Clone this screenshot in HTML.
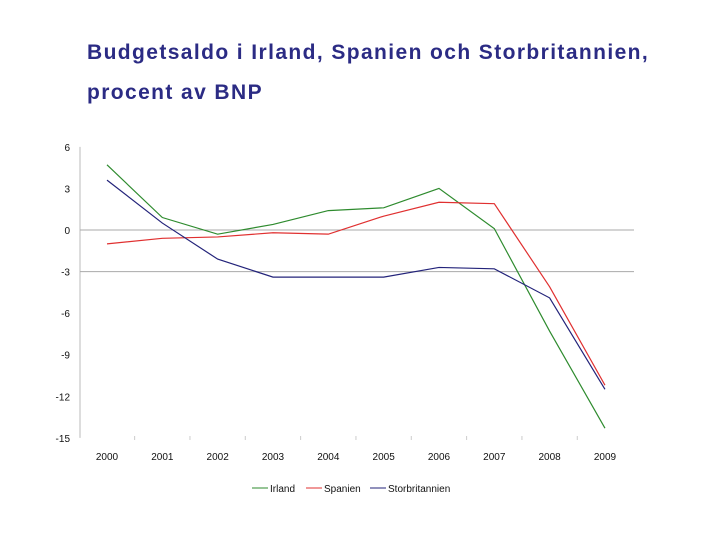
<!DOCTYPE html>
<html><head><meta charset="utf-8"><style>
body{margin:0;background:#fff;width:720px;height:540px;overflow:hidden;font-family:"Liberation Sans",sans-serif}
.t{position:absolute;left:87px;color:#2b2b84;font-size:21px;font-weight:bold;letter-spacing:1.4px;white-space:nowrap}
</style></head><body>
<div class="t" style="top:41px">Budgetsaldo i Irland, Spanien och Storbritannien,</div>
<div class="t" style="top:81px">procent av BNP</div>
<svg id="c" width="720" height="540" style="position:absolute;left:0;top:0"></svg>
<script>
const years=["2000","2001","2002","2003","2004","2005","2006","2007","2008","2009"];
const irland=[4.7,0.9,-0.3,0.4,1.4,1.6,3.0,0.1,-7.3,-14.3];
const spanien=[-1.0,-0.6,-0.5,-0.2,-0.3,1.0,2.0,1.9,-4.1,-11.2];
const storbritannien=[3.6,0.5,-2.1,-3.4,-3.4,-3.4,-2.7,-2.8,-4.9,-11.5];
const yTicks=[6,3,0,-3,-6,-9,-12,-15];
const svg=document.getElementById('c');const NS='http://www.w3.org/2000/svg';
const X=i=>107+i*55.33, Y=v=>230-v*(291/21);
function mk(t,a){const e=document.createElementNS(NS,t);for(const k in a)e.setAttribute(k,a[k]);svg.appendChild(e);return e;}
let ax=mk('line',{x1:80,y1:Y(6),x2:80,y2:Y(-15),stroke:'#bbb'});


[0,-3].forEach(v=>{const g=mk('line',{x1:80,x2:634,y1:Y(v),y2:Y(v),stroke:'#aaa'});

});
yTicks.forEach(v=>{const t=mk('text',{x:70,y:Y(v)+4,'text-anchor':'end','font-size':10,fill:'#111'});t.textContent=v;

});
years.forEach((y,i)=>{const t=mk('text',{x:X(i),y:460,'text-anchor':'middle','font-size':10,fill:'#111'});t.textContent=y;


if(i>0){const k=mk('line',{x1:X(i)-27.7,x2:X(i)-27.7,y1:436,y2:440,stroke:'#ccc'});

}});
const series=[[irland,'#2e8b2e','Irland'],[spanien,'#e03030','Spanien'],[storbritannien,'#23237a','Storbritannien']];
series.forEach(([d,c,n])=>{const p=mk('polyline',{points:d.map((v,i)=>X(i)+','+Y(v)).join(' '),fill:'none',stroke:c,'stroke-width':1.2});

});
const lx=[252,306,370];
series.forEach(([d,c,n],i)=>{const l=mk('line',{x1:lx[i],x2:lx[i]+16,y1:488,y2:488,stroke:c});


const t=mk('text',{x:lx[i]+18,y:492,'font-size':10,fill:'#111'});t.textContent=n;

});
</script>
</body></html>
